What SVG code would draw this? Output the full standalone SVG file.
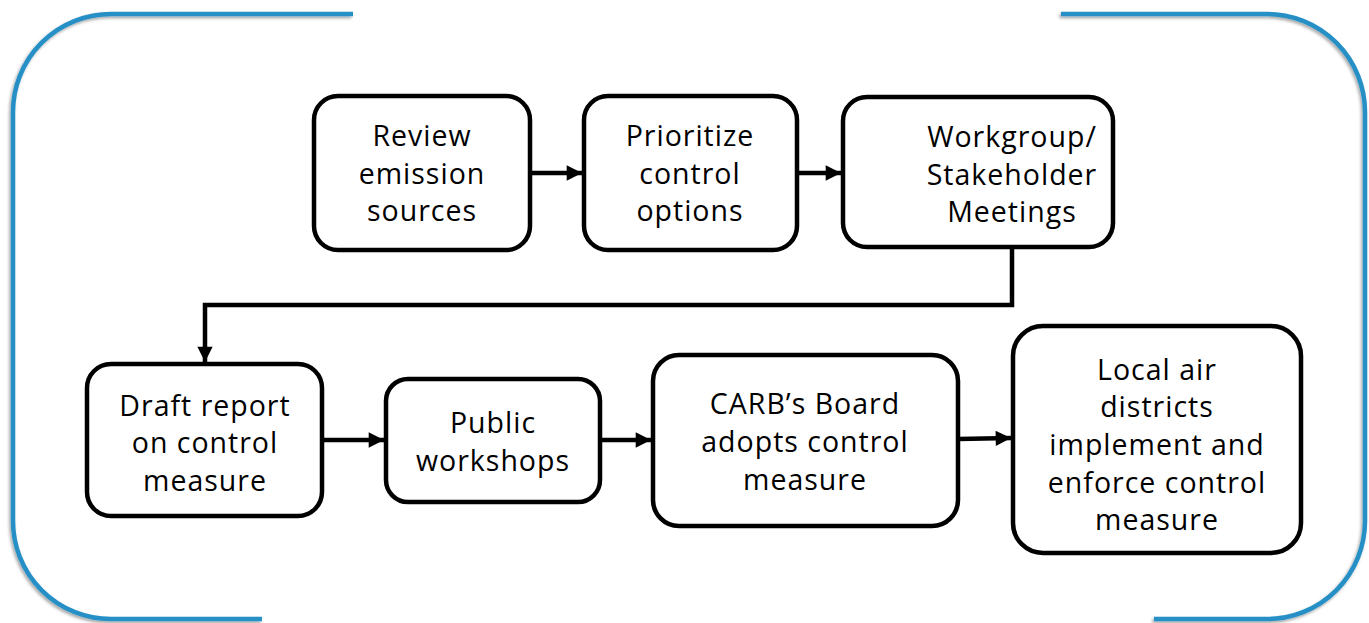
<svg xmlns="http://www.w3.org/2000/svg" width="1369" height="623" viewBox="0 0 1369 623">
<style>
.frame{fill:none;stroke:#2590c6;stroke-width:4.5;stroke-linecap:butt}
.box{fill:#fff;stroke:#000;stroke-width:4.5}
.lbl{font-family:"Open Sans",Lato,sans-serif;font-size:28.5px;letter-spacing:1px;fill:#000;text-anchor:middle}
.con{fill:none;stroke:#000;stroke-width:4.5}
</style>
<defs>
<marker id="ah" viewBox="0 0 10 10" refX="10" refY="5" markerWidth="3.6" markerHeight="3.4" orient="auto" markerUnits="strokeWidth">
<path d="M0,0 L10,5 L0,10 Z" fill="#000"/>
</marker>
<filter id="sh" x="-5%" y="-5%" width="110%" height="110%">
<feDropShadow dx="-1.5" dy="2" stdDeviation="1.5" flood-color="#000" flood-opacity="0.35"/>
</filter>
</defs>
<g id="frame" filter="url(#sh)">
<path class="frame" d="M353,14 L111,14 A98,98 0 0 0 13,112 L13,521 A98,98 0 0 0 111,619 L262,619"/>
<path class="frame" d="M1061,14 L1267,14 A98,98 0 0 1 1365,112 L1365,521 A98,98 0 0 1 1267,619 L1154,619"/>
</g>
<g id="connectors">
<path class="con" d="M530,173 L582,173" marker-end="url(#ah)"/>
<path class="con" d="M797,173 L841,173" marker-end="url(#ah)"/>
<path class="con" d="M1012,247 L1012,305 L205,305 L205,362" marker-end="url(#ah)"/>
<path class="con" d="M322,440 L384,440" marker-end="url(#ah)"/>
<path class="con" d="M600,440 L651,440" marker-end="url(#ah)"/>
<path class="con" d="M958,439 L1011,438" marker-end="url(#ah)"/>
</g>
<g id="n1">
<rect class="box" x="314" y="96" width="216" height="154" rx="24"/>
<text class="lbl" x="422" y="146">Review</text>
<text class="lbl" x="422" y="184">emission</text>
<text class="lbl" x="422" y="221">sources</text>
</g>
<g id="n2">
<rect class="box" x="584" y="96" width="213" height="154" rx="24"/>
<text class="lbl" x="690" y="146">Prioritize</text>
<text class="lbl" x="690" y="184">control</text>
<text class="lbl" x="690" y="221">options</text>
</g>
<g id="n3">
<rect class="box" x="843" y="97" width="270" height="150" rx="24"/>
<text class="lbl" x="1012" y="147">Workgroup/</text>
<text class="lbl" x="1012" y="185">Stakeholder</text>
<text class="lbl" x="1012" y="222">Meetings</text>
</g>
<g id="n4">
<rect class="box" x="87" y="364" width="235" height="152" rx="24"/>
<text class="lbl" x="205" y="416">Draft report</text>
<text class="lbl" x="205" y="453">on control</text>
<text class="lbl" x="205" y="491">measure</text>
</g>
<g id="n5">
<rect class="box" x="386" y="379" width="214" height="123" rx="22"/>
<text class="lbl" x="493" y="433">Public</text>
<text class="lbl" x="493" y="471">workshops</text>
</g>
<g id="n6">
<rect class="box" x="653" y="355" width="305" height="171" rx="26"/>
<text class="lbl" x="805" y="414">CARB’s Board</text>
<text class="lbl" x="805" y="452">adopts control</text>
<text class="lbl" x="805" y="490">measure</text>
</g>
<g id="n7">
<rect class="box" x="1013" y="326" width="288" height="227" rx="30"/>
<text class="lbl" x="1157" y="380">Local air</text>
<text class="lbl" x="1157" y="417">districts</text>
<text class="lbl" x="1157" y="455">implement and</text>
<text class="lbl" x="1157" y="493">enforce control</text>
<text class="lbl" x="1157" y="530">measure</text>
</g>
</svg>
